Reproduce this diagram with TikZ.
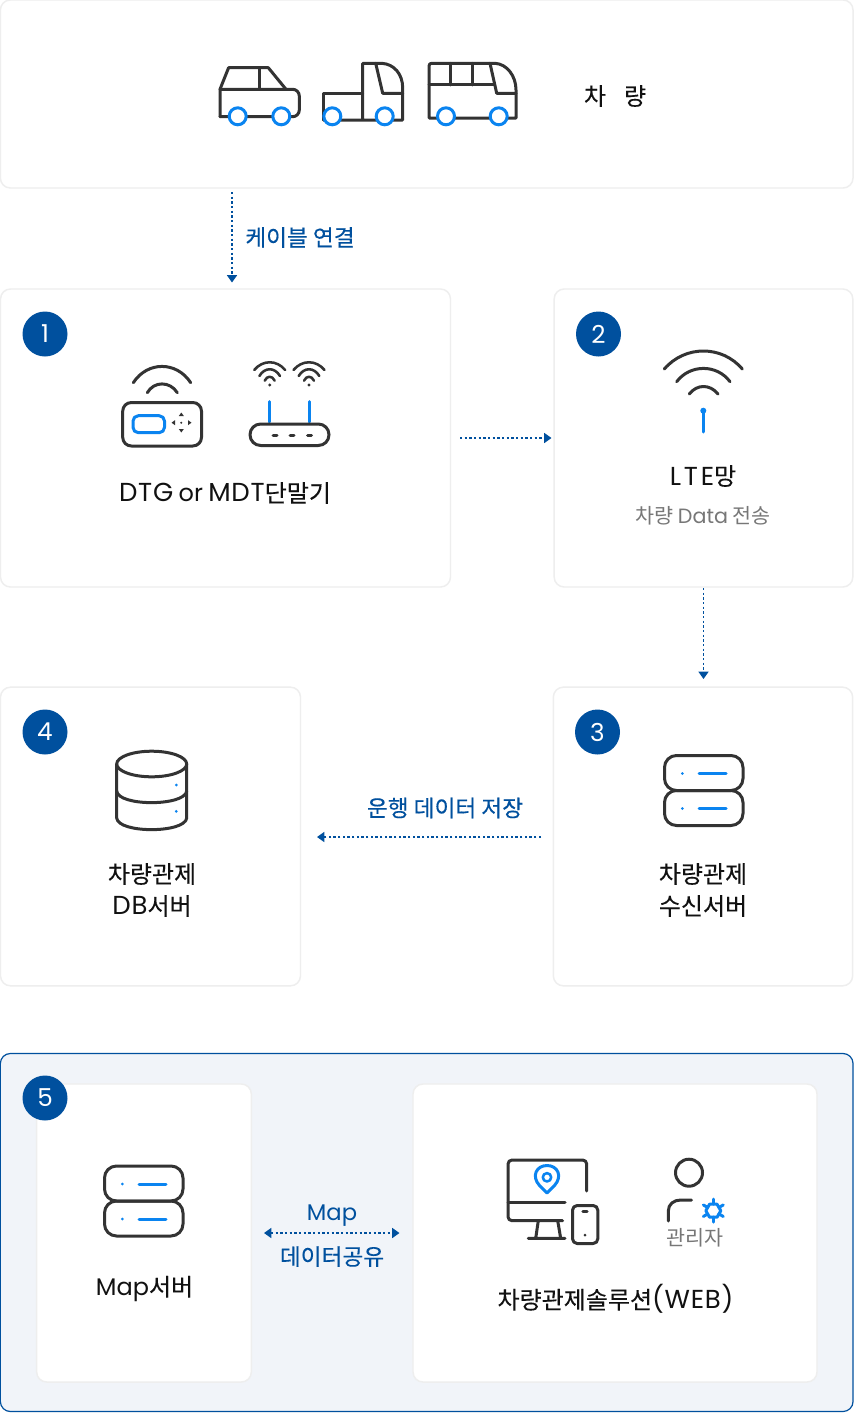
\documentclass[tikz,border=0pt]{standalone}
\usepackage{fontspec}
\setmainfont{Noto Sans CJK KR}
\newfontfamily\latfont{Poppins}
\newfontfamily\capfont[LetterSpace=3]{Poppins}
\newfontfamily\capwide[LetterSpace=11]{Poppins}
\newfontfamily\medfont[FakeBold=0.25]{Noto Sans CJK KR}
\newcommand{\lat}[1]{{\latfont #1}}
\newcommand{\capl}[1]{{\capfont\fontsize{19.5}{22}\selectfont #1}}
\newcommand{\capw}[1]{{\capwide\fontsize{19.5}{22}\selectfont #1}}
\usetikzlibrary{arrows.meta}
\definecolor{ink}{HTML}{333333}
\definecolor{sky}{HTML}{0A84F0}
\definecolor{navy}{HTML}{00509E}
\definecolor{edge}{HTML}{EEEEEE}
\definecolor{panel}{HTML}{F1F4F9}
\definecolor{txt}{HTML}{111111}
\definecolor{gry}{HTML}{777777}
\tikzset{
 x=0.75pt,y=-0.75pt,
 card/.style={draw=edge,fill=white,line width=1.1pt,rounded corners=7.5pt,inner sep=0pt,outer sep=0pt},
 icon/.style={draw=ink,line width=2.25pt,line join=round,line cap=round},
 iconb/.style={draw=sky,line width=2.25pt,line join=round,line cap=round},
 badge/.style={circle,fill=navy,text=white,minimum size=33.75pt,inner sep=0pt,font=\fontsize{18.5}{18}\selectfont},
 lab/.style={inner sep=0pt,text=txt,font=\medfont\fontsize{18}{24}\selectfont,align=center},
 bluelab/.style={inner sep=0pt,text=navy,font=\medfont\fontsize{17}{22}\selectfont,align=center},
 grylab/.style={inner sep=0pt,text=gry,font=\fontsize{15.5}{20}\selectfont,align=center},
 flow/.style={draw=navy,line width=1.1pt,dash pattern=on 1.7pt off 1.8pt,-{Triangle[length=5.5pt,width=7.5pt,fill=navy]}},
 flowboth/.style={flow,{Triangle[length=5.5pt,width=7.5pt,fill=navy]}-{Triangle[length=5.5pt,width=7.5pt,fill=navy]}},
 serverstack/.pic={
  \draw[icon,rounded corners=9pt] (0.5,0) rectangle (79,35);
  \draw[icon,rounded corners=9pt] (0.5,35) rectangle (79,70);
  \fill[sky] (18.3,18) circle (1.5);
  \fill[sky] (18.3,53) circle (1.5);
  \draw[iconb] (35,18) -- (62,18);
  \draw[iconb] (35,53) -- (62,53);
 },
}
\begin{document}
\begin{tikzpicture}
\useasboundingbox (0,0) rectangle (854,1413);
\fill[white] (0,0) rectangle (854,1413);
% cards
\node[card,minimum width=639.5pt,minimum height=141pt] (top) at (426.7,94) {};
\node[card,minimum width=337.5pt,minimum height=223.5pt] (c1) at (225.5,438) {};
\node[card,minimum width=224pt,minimum height=223.5pt] (c2) at (703.5,438) {};
\node[card,minimum width=224.5pt,minimum height=224pt] (c3) at (703,836.5) {};
\node[card,minimum width=225pt,minimum height=224pt] (c4) at (150.5,836.5) {};
\node[draw=navy,fill=panel,line width=0.9pt,rounded corners=7.5pt,minimum width=639.5pt,minimum height=268.5pt,inner sep=0pt] (p5) at (426.7,1232.5) {};
\node[card,minimum width=161pt,minimum height=223.5pt] (c5a) at (144,1233) {};
\node[card,minimum width=303pt,minimum height=223.5pt] (c5b) at (615,1233) {};
% badges
\node[badge] (b1) at (45,334) {\raisebox{-1pt}{\lat{1}}};
\node[badge] (b2) at (598.5,334) {\raisebox{-1pt}{\lat{2}}};
\node[badge] (b3) at (597.5,732) {\raisebox{-1pt}{\lat{3}}};
\node[badge] (b4) at (45,732) {\raisebox{-1pt}{\lat{4}}};
\node[badge] (b5) at (45,1098) {\raisebox{-1pt}{\lat{5}}};
% car
\draw[icon] (220,116.7) -- (220,89.3) -- (228.6,67.7) -- (268.3,67.7) -- (286,89.3);
\draw[icon,rounded corners=5pt] (220,89.3) -- (299.3,89.3) -- (299.3,116.7) -- (220,116.7);
\draw[icon] (259.3,67.7) -- (259.3,89.3);
% truck
\draw[icon] (323.5,120) -- (323.5,94) -- (362.7,94);
\draw[icon] (362.7,120) -- (362.7,63.3) -- (381.7,63.3) .. controls (394,64) and (402.7,74) .. (402.7,88) -- (402.7,120) -- (323.5,120);
\draw[icon] (375.7,63.3) -- (382.7,93.3) -- (402.7,93.3);
% bus
\draw[icon] (429,118) -- (429,66) .. controls (429,64) and (430,63.3) .. (432,63.3) -- (495,63.3) .. controls (507,64) and (516,76) .. (516,90) -- (516,118) -- (429,118);
\draw[icon] (429,85) -- (493.7,85);
\draw[icon] (450.7,63.3) -- (450.7,85) (472.7,63.3) -- (472.7,85);
\draw[icon] (490,63.3) -- (496.7,93.3) -- (516,93.3);
% wheels
\foreach \wx/\wy in {237.7/116.3,281.3/116.3,332.3/116.3,384.7/116.3,446/116.3,498.7/116.3}
  \draw[iconb,fill=white] (\wx,\wy) circle (8.5);
\node[lab] (tcha) at (595,96) {차};
\node[lab] (tryang) at (635,96) {량};
% arrow 1
\coordinate (a1s) at (232,192);
\coordinate (a1e) at (232,282.5);
\draw[flow] (a1s) -- (a1e);
\node[bluelab] (l1) at (300,237.5) {케이블 연결};
% DTG device
\draw[icon] (133.3,382.7) .. controls (147.5,361) and (176.5,361) .. (190.7,382.7);
\draw[icon] (147.3,392.7) .. controls (154,381) and (170,381) .. (177.3,392.7);
\draw[icon,rounded corners=6.5pt] (122.7,402.5) rectangle (201.5,446);
\draw[iconb,rounded corners=4pt] (133,415.7) rectangle (164.5,432.7);
\fill[ink] (181.3,422.7) circle (1.1);
\fill[ink] (181.3,412.5) -- (178.8,416) -- (183.8,416) -- cycle;
\fill[ink] (181.3,432.5) -- (178.8,429) -- (183.8,429) -- cycle;
\fill[ink] (171.5,422.7) -- (175,420.2) -- (175,425.2) -- cycle;
\fill[ink] (191.5,422.7) -- (188,420.2) -- (188,425.2) -- cycle;
% router
\draw[iconb] (269.7,401.7) -- (269.7,422) (309,401.7) -- (309,422);
\draw[icon,rounded corners=8pt] (250,424) rectangle (329,445.5);
\draw[icon,line width=2.25pt] (273,435) -- (277,435) (290,435) -- (294,435) (307.5,435) -- (311.5,435);
\foreach \cx in {269.7,309}{
 \begin{scope}[shift={(\cx,0)}]
 \draw[icon,line width=1.9pt] (-15.5,370) .. controls (-7,359.7) and (7,359.7) .. (15.5,370);
 \draw[icon,line width=1.9pt] (-10.3,376) .. controls (-5,367) and (5,367) .. (10.3,376);
 \draw[icon,line width=1.9pt] (-5,380.7) .. controls (-2.5,375.4) and (2.5,375.4) .. (5,380.7);
 \fill[ink] (0,385) circle (1.6);
 \end{scope}
}
\node[lab] (l2) at (225,493) {\capl{DTG} {\lat{or}} \capl{MDT}단말기};
% arrow 1-2
\coordinate (a2s) at (460,438);
\coordinate (a2e) at (551.5,438);
\draw[flow] (a2s) -- (a2e);
% LTE
\draw[icon] (664.3,369) .. controls (685,345) and (722,345) .. (742.3,369);
\draw[icon] (676.7,381.7) .. controls (690,364) and (717,364) .. (730,381.7);
\draw[icon] (689.3,394) .. controls (697,384) and (710,384) .. (718,394);
\draw[iconb] (703.3,410.7) -- (703.3,432);
\fill[sky] (703.3,410.7) circle (3);
\node[lab] (l3) at (703,476) {\capw{LTE}망};
\node[grylab] (l4) at (703,516) {차량 \lat{Data} 전송};
% arrow 2-3
\coordinate (a3s) at (703.5,588);
\coordinate (a3e) at (703.5,679);
\draw[flow] (a3s) -- (a3e);
% server 3
\pic at (664,755.5) {serverstack};
\node[lab] (l5) at (703,890) {차량관제\\수신서버};
% arrow 3-4
\coordinate (a4s) at (541,837);
\coordinate (a4e) at (317,837);
\draw[flow] (a4s) -- (a4e);
\node[bluelab] (l6) at (445,808) {운행 데이터 저장};
% DB
\draw[icon] (151.7,764) ellipse (35 and 12.8);
\draw[icon] (116.7,764) -- (116.7,818) .. controls (118,833.5) and (185,833.5) .. (186.7,818) -- (186.7,764);
\draw[icon] (116.7,791) .. controls (118,806.5) and (185,806.5) .. (186.7,791);
\fill[sky] (176.3,785) circle (1.5);
\fill[sky] (176.3,811.3) circle (1.5);
\node[lab] (l7) at (152,890) {차량관제\\\capl{DB}서버};
% Map server
\pic at (104,1166) {serverstack};
\node[lab] (l8) at (144.5,1289) {\lat{Map}서버};
% arrow 5
\coordinate (a5s) at (264,1233);
\coordinate (a5e) at (399.5,1233);
\draw[flowboth] (a5s) -- (a5e);
\node[bluelab] (l9) at (332,1216) {\lat{Map}};
\node[bluelab] (l10) at (332,1256.5) {데이터공유};
% monitor
\draw[icon,rounded corners=3pt] (586.7,1191) -- (586.7,1160) -- (508,1160) -- (508,1220.7) -- (562.7,1220.7);
\draw[icon] (508,1202.7) -- (565,1202.7);
\draw[icon] (538.3,1220.7) -- (535.7,1238.3) (557.7,1220.7) -- (560.7,1238.3) (528.3,1238.3) -- (565,1238.3);
\draw[icon,rounded corners=3.5pt] (572.5,1205.5) rectangle (597.8,1243.5);
\draw[icon] (582.8,1211.7) -- (587.2,1211.7);
\fill[ink] (585,1235) circle (1.5);
% pin
\draw[iconb] (547,1193) -- (539.5,1185.5) .. controls (531,1176) and (536.5,1165.5) .. (547,1165.5) .. controls (557.5,1165.5) and (563,1176) .. (554.5,1185.5) -- cycle;
\draw[iconb,line width=1.9pt] (547,1177.3) circle (4.2);
% person
\draw[icon] (689,1172.7) circle (13.5);
\draw[icon] (668.3,1221) -- (668.3,1211) .. controls (668.3,1204) and (674,1200) .. (680.7,1200) -- (691.5,1200);
% gear
\begin{scope}[shift={(713.3,1210.7)}]
\foreach \ang in {30,90,150,210,270,330}
  \draw[iconb] (\ang:6.5) -- (\ang:11.5);
\draw[iconb] (0:7.5) -- (60:7.5) -- (120:7.5) -- (180:7.5) -- (240:7.5) -- (300:7.5) -- cycle;
\end{scope}
\node[grylab] (l11) at (695,1237.5) {관리자};
\node[lab] (l12) at (615.5,1299) {차량관제솔루션\capl{(WEB)}};
\end{tikzpicture}
\end{document}
